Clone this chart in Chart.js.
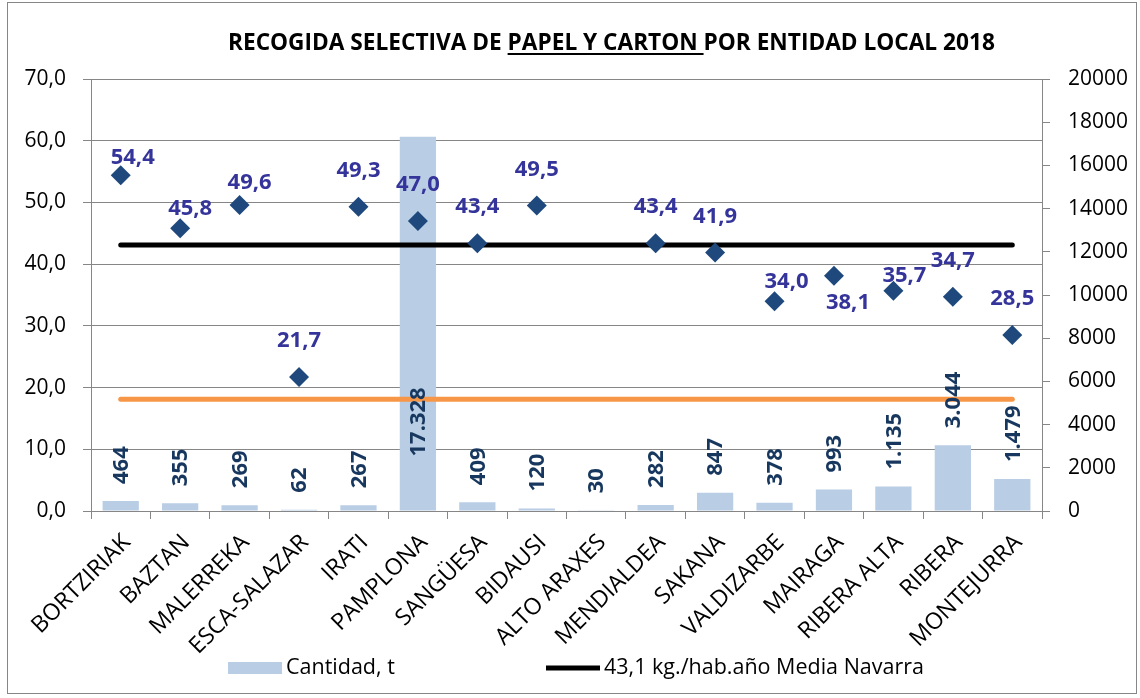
<!DOCTYPE html>
<html>
<head>
<meta charset="utf-8">
<script src="https://cdn.jsdelivr.net/npm/chart.js@4.4.1/dist/chart.umd.min.js"></script>
<style>
  body { margin: 0; background: #fff; }
  canvas { display: block; }
</style>
</head>
<body>
<canvas id="chart" width="1140" height="698"></canvas>
<script>
// datos
const categories = ['BORTZIRIAK', 'BAZTAN', 'MALERREKA', 'ESCA-SALAZAR', 'IRATI', 'PAMPLONA', 'SANGÜESA', 'BIDAUSI',
  'ALTO ARAXES', 'MENDIALDEA', 'SAKANA', 'VALDIZARBE', 'MAIRAGA', 'RIBERA ALTA', 'RIBERA', 'MONTEJURRA'];
const cantidad = [464, 355, 269, 62, 267, 17328, 409, 120, 30, 282, 847, 378, 993, 1135, 3044, 1479];
const kgHabAno = [54.4, 45.8, 49.6, 21.7, 49.3, 47.0, 43.4, 49.5, null, 43.4, 41.9, 34.0, 38.1, 35.7, 34.7, 28.5];
const mediaNavarra = 43.1;
const lineaNaranja = 18.1;
const leftTicks = [0, 10, 20, 30, 40, 50, 60, 70];
const rightTicks = [0, 2000, 4000, 6000, 8000, 10000, 12000, 14000, 16000, 18000, 20000];

const FONT = "'Open Sans', sans-serif";
const GRID = '#868686';

// desplazamiento de etiquetas de los rombos [dx, dy]
const labelNudge = { 0: [12, -18], 1: [10, -20], 2: [10, -22], 11: [12, -19], 12: [14, 27], 13: [11, -15] };

const fmt1 = v => v.toFixed(1).replace('.', ',');
const fmtMiles = v => String(v).replace(/\B(?=(\d{3})+(?!\d))/g, '.');

const decor = {
  id: 'decor',
  afterDatasetsDraw(chart) {
    const ctx = chart.ctx;
    ctx.save();
    // etiquetas de barras
    ctx.fillStyle = '#17375E';
    ctx.font = "bold 22px " + FONT;
    ctx.textAlign = 'left';
    ctx.textBaseline = 'middle';
    chart.getDatasetMeta(3).data.forEach((bar, i) => {
      const y = (bar.base - bar.y > 300) ? bar.base - 54 : bar.y - 17;
      ctx.save();
      ctx.translate(bar.x + 1, y);
      ctx.rotate(-Math.PI / 2);
      ctx.fillText(fmtMiles(cantidad[i]), 0, 0);
      ctx.restore();
    });
    // etiquetas de rombos
    ctx.fillStyle = '#34349A';
    ctx.textAlign = 'center';
    chart.getDatasetMeta(0).data.forEach((pt, i) => {
      if (kgHabAno[i] == null) return;
      const n = labelNudge[i] || [0, -36];
      ctx.fillText(fmt1(kgHabAno[i]), pt.x + n[0], pt.y + n[1]);
    });
    ctx.restore();
  },
  afterDraw(chart) {
    const ctx = chart.ctx;
    ctx.save();
    // marco
    ctx.strokeStyle = GRID;
    ctx.lineWidth = 1;
    ctx.strokeRect(7.5, 2.5, 1129, 691);
    // titulo
    const parts = ['RECOGIDA SELECTIVA DE ', 'PAPEL Y CARTON ', 'POR ENTIDAD LOCAL 2018'];
    ctx.font = "bold 20px " + FONT;
    const w20 = ctx.measureText(parts.join('')).width;
    const size = 20 * 767 / w20;
    ctx.font = "bold " + size.toFixed(2) + "px " + FONT;
    ctx.fillStyle = '#000';
    ctx.textAlign = 'left';
    ctx.textBaseline = 'alphabetic';
    let x = 228;
    const base = 50;
    parts.forEach((p, i) => {
      const w = ctx.measureText(p).width;
      ctx.fillText(p, x, base);
      if (i === 1) ctx.fillRect(x, base + 3, w, 2);
      x += w;
    });
    // leyenda
    ctx.font = "21.5px " + FONT;
    ctx.textBaseline = 'middle';
    ctx.fillStyle = '#B9CDE5';
    ctx.fillRect(228, 662, 54, 12);
    ctx.fillStyle = '#000';
    ctx.fillText('Cantidad, t', 286, 668);
    ctx.strokeStyle = '#000';
    ctx.lineWidth = 5;
    ctx.beginPath();
    ctx.moveTo(546, 668);
    ctx.lineTo(600, 668);
    ctx.stroke();
    ctx.fillText('43,1 kg./hab.año Media Navarra', 604, 668);
    ctx.restore();
  }
};

new Chart(document.getElementById('chart'), {
  data: {
    labels: categories,
    datasets: [
      {
        type: 'line',
        label: 'kg./hab.año',
        data: kgHabAno,
        yAxisID: 'y',
        showLine: false,
        pointStyle: 'rectRot',
        pointRadius: 10,
        pointBackgroundColor: '#1F497D',
        pointBorderWidth: 0,
        order: 0
      },
      {
        type: 'line',
        label: '43,1 kg./hab.año Media Navarra',
        data: [{ x: categories[0], y: mediaNavarra }, { x: categories[categories.length - 1], y: mediaNavarra }],
        yAxisID: 'y',
        borderColor: '#000',
        borderWidth: 5,
        borderCapStyle: 'round',
        pointRadius: 0,
        order: 1
      },
      {
        type: 'line',
        label: 'Referencia',
        data: [{ x: categories[0], y: lineaNaranja }, { x: categories[categories.length - 1], y: lineaNaranja }],
        yAxisID: 'y',
        borderColor: '#F79646',
        borderWidth: 5,
        borderCapStyle: 'round',
        pointRadius: 0,
        order: 2
      },
      {
        type: 'bar',
        label: 'Cantidad, t',
        data: cantidad,
        yAxisID: 'y2',
        backgroundColor: '#B9CDE5',
        categoryPercentage: 1,
        barPercentage: 0.61,
        order: 4
      }
    ]
  },
  options: {
    responsive: false,
    animation: false,
    layout: { padding: { top: 79, left: 0, right: 0, bottom: 0 } },
    plugins: { legend: { display: false }, title: { display: false }, tooltip: { enabled: false } },
    scales: {
      x: {
        offset: true,
        grid: { offset: true, drawOnChartArea: false, color: GRID, tickLength: 8 },
        border: { color: GRID },
        ticks: { color: '#000', font: { family: FONT, size: 23 }, minRotation: 45, maxRotation: 45, padding: 10, labelOffset: 6 },
        afterFit: s => { s.height = 187; }
      },
      y: {
        position: 'left',
        min: 0, max: 70,
        afterBuildTicks: s => { s.ticks = leftTicks.map(v => ({ value: v })); },
        grid: { color: GRID, tickLength: 8 },
        border: { color: GRID },
        ticks: { color: '#000', font: { family: FONT, size: 21 }, padding: 17, callback: v => fmt1(v) },
        afterFit: s => { s.width = 91; }
      },
      y2: {
        position: 'right',
        min: 0, max: 20000,
        afterBuildTicks: s => { s.ticks = rightTicks.map(v => ({ value: v })); },
        grid: { drawOnChartArea: false, color: GRID, tickLength: 8 },
        border: { color: GRID },
        ticks: { color: '#000', font: { family: FONT, size: 21 }, padding: 18, callback: v => String(v) },
        afterFit: s => { s.width = 98; }
      }
    }
  },
  plugins: [decor]
});
</script>
</body>
</html>
